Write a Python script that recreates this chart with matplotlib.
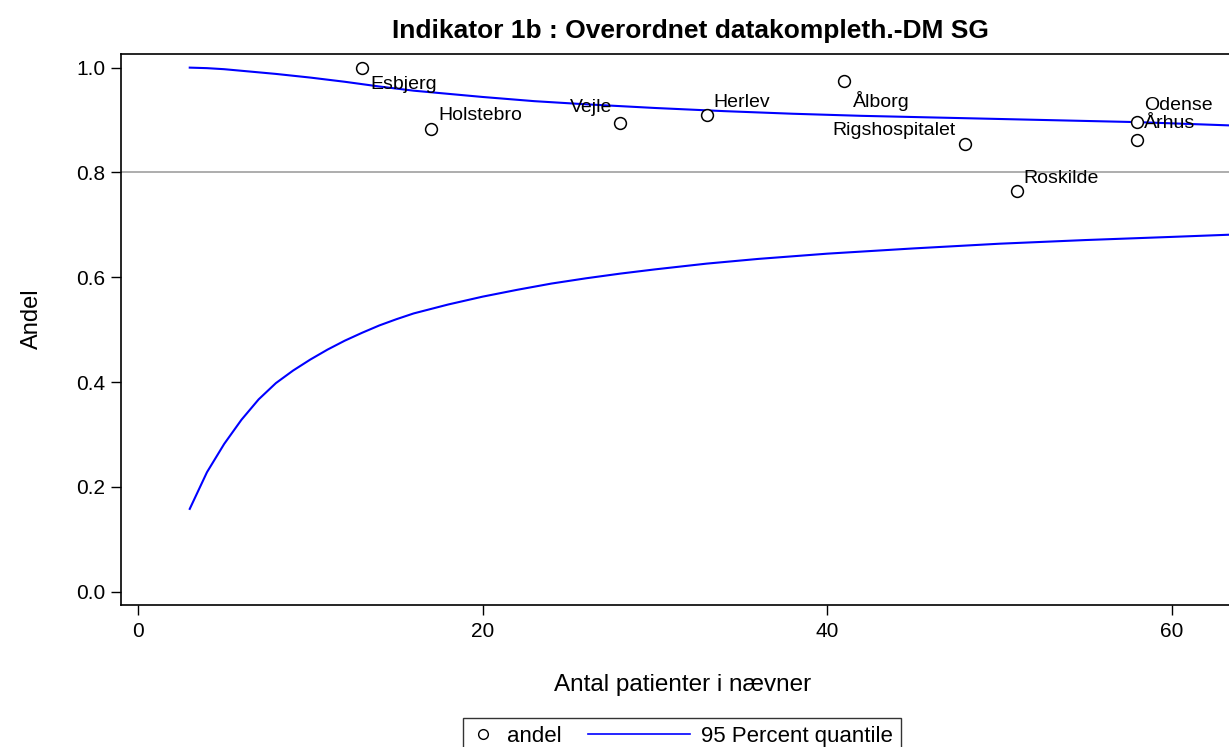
import matplotlib
matplotlib.use("Agg")
import matplotlib.pyplot as plt
from matplotlib.lines import Line2D
from matplotlib.legend_handler import HandlerLine2D

# ---- data ----
hospitals = ["Esbjerg", "Holstebro", "Vejle", "Herlev", "Ålborg",
             "Rigshospitalet", "Roskilde", "Odense", "Århus"]
n_patients = [13, 17, 28, 33, 41, 48, 51, 58, 58]
andel = [1.0, 0.883, 0.894, 0.910, 0.975, 0.854, 0.764, 0.897, 0.862]

upper_n = [3, 4, 5, 6, 8, 10, 12, 14, 16, 18, 20, 23, 26, 30, 34, 38, 42, 46, 50, 54, 58, 64]
upper_q = [1.0, 0.999, 0.997, 0.994, 0.988, 0.981, 0.973, 0.964, 0.956, 0.950, 0.944,
           0.936, 0.930, 0.923, 0.917, 0.912, 0.908, 0.905, 0.902, 0.899, 0.896, 0.889]

lower_n = [3, 4, 5, 6, 7, 8, 9, 10, 11, 12, 13, 14, 15, 16, 18, 20, 22, 24, 26, 28, 30,
           33, 36, 40, 45, 50, 55, 60, 64]
lower_q = [0.158, 0.228, 0.282, 0.328, 0.367, 0.398, 0.422, 0.443, 0.462, 0.479, 0.494,
           0.508, 0.520, 0.531, 0.548, 0.563, 0.576, 0.588, 0.598, 0.607, 0.615,
           0.626, 0.635, 0.645, 0.655, 0.664, 0.671, 0.677, 0.682]

reference_level = 0.8

title = "Indikator 1b : Overordnet datakompleth.-DM SG"
xlabel = "Antal patienter i nævner"
ylabel = "Andel"
xticks = [0, 20, 40, 60]
yticks = [0.0, 0.2, 0.4, 0.6, 0.8, 1.0]

# label placement (pixel offsets, alignment)
label_pos = {
    "Esbjerg": (8, -17, "left"),
    "Holstebro": (7, 13, "left"),
    "Vejle": (-8, 16, "right"),
    "Herlev": (7, 12, "left"),
    "Ålborg": (8, -20, "left"),
    "Rigshospitalet": (-9, 14, "right"),
    "Roskilde": (7, 13, "left"),
    "Odense": (7, 16, "left"),
    "Århus": (7, 16, "left"),
}

plt.rcParams['font.family'] = ['Liberation Sans', 'DejaVu Sans']

fig = plt.figure(figsize=(12.29, 7.47), dpi=100)
ax = fig.add_axes([121 / 1229, 1 - 605 / 747, 1 - 121 / 1229, (605 - 54) / 747])

ax.axhline(reference_level, color="#a0a0a0", lw=1.2, zorder=1)
ax.plot(upper_n, upper_q, color="#0000ff", lw=1.5, zorder=2)
ax.plot(lower_n, lower_q, color="#0000ff", lw=1.5, zorder=2)
ax.plot(n_patients, andel, linestyle="none", marker="o", ms=8.5, mfc="white",
        mec="black", mew=1.1, zorder=3)

for name, xv, yv in zip(hospitals, n_patients, andel):
    dx, dy, ha = label_pos[name]
    ax.annotate(name, (xv, yv), xytext=(dx, dy), textcoords="offset pixels",
                ha=ha, va="center", fontsize=14, color="black", zorder=4)

ax.set_xlim(-0.99, 63.32)
ax.set_ylim(-0.0254, 1.026)
ax.set_xticks(xticks)
ax.set_xticklabels([str(t) for t in xticks])
ax.set_yticks(yticks)
ax.set_yticklabels([f"{t:.1f}" for t in yticks])
ax.tick_params(direction="out", length=7.2, width=1.0, labelsize=15, pad=5)
ax.tick_params(axis="y", pad=4)

for s in ["left", "bottom", "top"]:
    ax.spines[s].set_linewidth(1.2)
ax.spines["right"].set_visible(False)

ax.set_xlabel(xlabel, fontsize=17.5)
ax.xaxis.set_label_coords(0.507, -0.145)
ax.xaxis.label.set_va("center")
ax.set_ylabel(ylabel, fontsize=17)
ax.yaxis.set_label_coords(-0.08, 0.52)
ax.yaxis.label.set_va("center")

fig.text(690 / 1229, 1 - 31 / 747, title, ha="center", va="center",
         fontsize=19, fontweight="bold")


class SmallHandler(HandlerLine2D):
    def legend_artist(self, legend, orig_handle, fontsize, handlebox):
        handlebox.width = 1.1 * fontsize
        return super().legend_artist(legend, orig_handle, fontsize, handlebox)


h_pt = Line2D([], [], linestyle="none", marker="o", ms=7, mfc="white",
              mec="black", mew=1.0)
h_ln = Line2D([], [], color="#0000ff", lw=1.2)
leg = fig.legend([h_pt, h_ln], ["andel", "95 Percent quantile"],
                 loc="upper center", bbox_to_anchor=(682 / 1229, 1 - 718 / 747),
                 ncol=2, fontsize=16, frameon=True, fancybox=False,
                 edgecolor="black", handlelength=4.6, handletextpad=0.5,
                 columnspacing=1.2, borderpad=0.35, borderaxespad=0,
                 handler_map={h_pt: SmallHandler()})
leg.get_frame().set_linewidth(1.0)

fig.savefig("out.png", dpi=100)
